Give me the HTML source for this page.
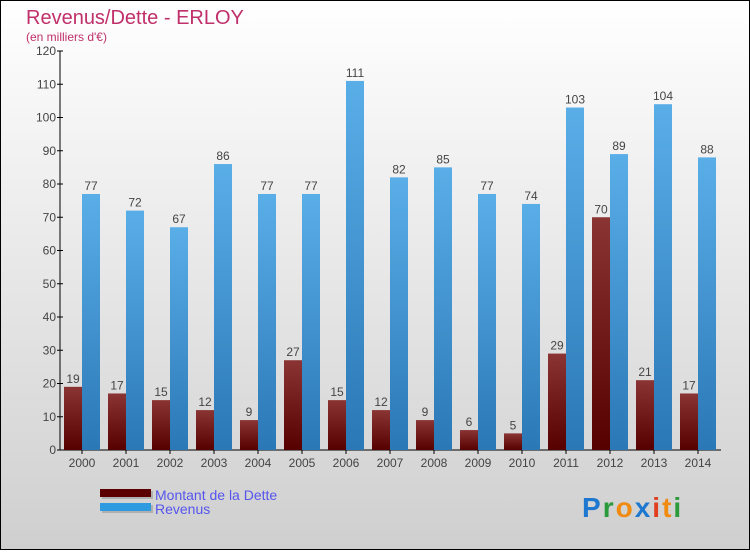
<!DOCTYPE html>
<html><head><meta charset="utf-8"><style>
body{margin:0;width:750px;height:550px;overflow:hidden;font-family:"Liberation Sans",sans-serif}
</style></head><body>
<svg width="750" height="550" viewBox="0 0 750 550" xmlns="http://www.w3.org/2000/svg">
<defs>
<linearGradient id="bg" x1="0" y1="0" x2="0" y2="1"><stop offset="0" stop-color="#ffffff"/><stop offset="1" stop-color="#cfcfcf"/></linearGradient>
<linearGradient id="gd" x1="0" y1="0" x2="0" y2="1"><stop offset="0" stop-color="#8a3434"/><stop offset="1" stop-color="#560000"/></linearGradient>
<linearGradient id="gr" x1="0" y1="0" x2="0" y2="1"><stop offset="0" stop-color="#5aaee8"/><stop offset="1" stop-color="#2a78b6"/></linearGradient>
</defs>
<rect x="0.5" y="0.5" width="749" height="549" fill="url(#bg)" stroke="#000"/>
<text x="26" y="24" font-size="20" fill="#c0306a">Revenus/Dette - ERLOY</text>
<text x="26" y="41" font-size="12" fill="#c0306a">(en milliers d'€)</text>
<g id="axes"></g>
<g id="bars"></g>
<g>
<rect x="102" y="491" width="51" height="8" fill="#999" opacity="0.6"/>
<rect x="100" y="489" width="51" height="8" fill="#5a0000"/>
<rect x="102" y="505" width="51" height="8" fill="#999" opacity="0.6"/>
<rect x="100" y="503" width="51" height="8" fill="#2e9ae0"/>
<text x="155" y="500" font-size="14" fill="#5555ee">Montant de la Dette</text>
<text x="155" y="514" font-size="14" fill="#5555ee">Revenus</text>
</g>
<g font-size="28" font-weight="bold" letter-spacing="2">
<text x="582" y="517"><tspan fill="#1e78d0">P</tspan><tspan fill="#2a9a3a">r</tspan><tspan fill="#f08a10">o</tspan><tspan fill="#1e78d0">x</tspan><tspan fill="#e04020">i</tspan><tspan fill="#f08a10">t</tspan><tspan fill="#2a9a3a">i</tspan></text>
</g>
</svg>
<script>
const years=["2000","2001","2002","2003","2004","2005","2006","2007","2008","2009","2010","2011","2012","2013","2014"];
const dette=[19,17,15,12,9,27,15,12,9,6,5,29,70,21,17];
const revenus=[77,72,67,86,77,77,111,82,85,77,74,103,89,104,88];
const yTicks=[0,10,20,30,40,50,60,70,80,90,100,110,120];
const NS="http://www.w3.org/2000/svg";
const y=v=>450-v*399/120;
const xc=i=>82+44*i;
function mk(t,a,p){const e=document.createElementNS(NS,t);for(const k in a)e.setAttribute(k,a[k]);p.appendChild(e);return e;}
const ax=document.getElementById('axes'),bg=document.getElementById('bars');
let l=mk('line',{x1:60,y1:51,x2:60,y2:450,stroke:'#000'},ax);


l=mk('line',{x1:60,y1:450,x2:721,y2:450,stroke:'#000'},ax);


yTicks.forEach(v=>{
 mk('line',{x1:57,x2:63,y1:y(v),y2:y(v),stroke:'#000'},ax);
 const t=mk('text',{x:56,y:y(v)+4,'text-anchor':'end','font-size':12,fill:'#444'},ax);t.textContent=v;
 
 
});
years.forEach((yr,i)=>{
 const c=xc(i);
 mk('line',{x1:c,x2:c,y1:450,y2:454,stroke:'#000'},ax);
 const t=mk('text',{x:c,y:467,'text-anchor':'middle','font-size':12,fill:'#444'},ax);t.textContent=yr;
 
 
 let r=mk('rect',{x:c-18,y:y(dette[i]),width:18,height:450-y(dette[i]),fill:'url(#gd)'},bg);
 
 
 r=mk('rect',{x:c,y:y(revenus[i]),width:18,height:450-y(revenus[i]),fill:'url(#gr)'},bg);
 
 
 let v=mk('text',{x:c-9,y:y(dette[i])-4,'text-anchor':'middle','font-size':12,fill:'#444'},bg);v.textContent=dette[i];
 
 
 v=mk('text',{x:c+9,y:y(revenus[i])-4,'text-anchor':'middle','font-size':12,fill:'#444'},bg);v.textContent=revenus[i];
 
 
});
</script>
</body></html>
